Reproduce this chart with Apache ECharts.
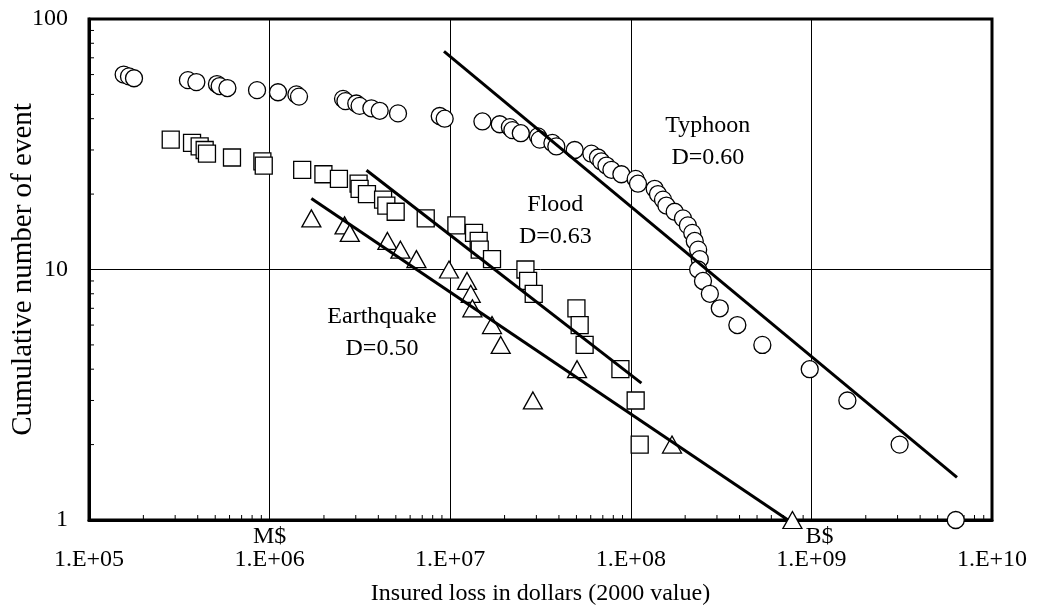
<!DOCTYPE html>
<html>
<head>
<meta charset="utf-8">
<script src="https://cdn.jsdelivr.net/npm/echarts@6/dist/echarts.min.js"></script>
<style>html,body{margin:0;padding:0;background:#fff}#c{width:1039px;height:614px}</style>
</head>
<body>
<div id="c"></div>
<script>
// ---- data ----
var typhoonX = [1.556e5,1.665e5,1.775e5,3.53e5,3.93e5,5.11e5,5.29e5,5.84e5,8.52e5,1.113e6,1.407e6,1.455e6,2.55e6,2.63e6,3.02e6,3.15e6,3.66e6,4.07e6,5.14e6,8.75e6,9.32e6,1.508e7,1.88e7,2.14e7,2.21e7,2.46e7,3.06e7,3.13e7,3.68e7,3.87e7,4.89e7,6.05e7,6.58e7,6.87e7,7.33e7,7.81e7,8.87e7,1.064e8,1.096e8,1.356e8,1.414e8,1.508e8,1.574e8,1.75e8,1.945e8,2.07e8,2.19e8,2.26e8,2.36e8,2.41e8,2.36e8,2.51e8,2.74e8,3.11e8,3.89e8,5.35e8,9.79e8,1.582e9,3.08e9,6.3e9];
var typhoonY = [60,59,58,57,56,55,54,53,52,51,50,49,48,47,46,45,44,43,42,41,40,39,38,37,36,35,34,33,32,31,30,29,28,27,26,25,24,23,22,21,20,19,18,17,16,15,14,13,12,11,10,9,8,7,6,5,4,3,2,1];
var floodX = [2.835e5,3.72e5,4.10e5,4.37e5,4.50e5,6.19e5,9.12e5,9.28e5,1.515e6,1.986e6,2.42e6,3.11e6,3.15e6,3.46e6,4.25e6,4.43e6,4.99e6,7.32e6,1.082e7,1.355e7,1.438e7,1.457e7,1.704e7,2.61e7,2.70e7,2.90e7,5.0e7,5.21e7,5.55e7,8.76e7,1.064e8,1.12e8];
var floodY = [33,32,31,30,29,28,27,26,25,24,23,22,21,20,19,18,17,16,15,14,13,12,11,10,9,8,7,6,5,4,3,2];
var quakeX = [1.703e6,2.60e6,2.78e6,4.49e6,5.30e6,6.50e6,9.85e6,1.239e7,1.299e7,1.327e7,1.704e7,1.904e7,5.04e7,2.87e7,1.691e8,7.85e8];
var quakeY = [16,15,14,13,12,11,10,9,8,7,6,5,4,3,2,1];
// fitted power-law lines (end points)
var typhoonFitX = [9.24e6, 6.4e9];
var typhoonFitY = [74.2, 1.48];
var floodFitX = [3.44e6, 1.145e8];
var floodFitY = [24.9, 3.52];
var quakeFitX = [1.703e6, 7.42e8];
var quakeFitY = [19.2, 1.0];
// annotations
var noteText = ['Typhoon\nD=0.60', 'Flood\nD=0.63', 'Earthquake\nD=0.50'];
var noteX = [2.67e8, 3.82e7, 4.19e6];
var noteY = [32.4, 15.7, 5.61];
// axis ticks
var xUnitLabels = {6:'M$', 9:'B$'};
var minorMult = [2,3,4,5,6,7,8,9];

function zip(a,b){return a.map(function(v,i){return [v,b[i]];});}
var minorX = [], minorY = [];
for (var e=5;e<10;e++) minorMult.forEach(function(m){minorX.push([m*Math.pow(10,e),1]);});
for (var f=0;f<2;f++) minorMult.forEach(function(m){minorY.push([1e5,m*Math.pow(10,f)]);});

var FONT = "'Liberation Serif','Times New Roman',serif";
var markerStyle = {color:'#fff', borderColor:'#000', borderWidth:1.3, opacity:1};

var chart = echarts.init(document.getElementById('c'), null, {renderer:'canvas'});
chart.setOption({
  animation:false,
  backgroundColor:'#fff',
  grid:{left:89, right:47, top:19, bottom:94, containLabel:false, outerBoundsMode:'none',
        show:true, borderColor:'#000', borderWidth:3, backgroundColor:'transparent'},
  xAxis:{
    type:'log', logBase:10, min:1e5, max:1e10,
    name:'Insured loss in dollars (2000 value)', nameLocation:'middle', nameGap:62,
    nameTextStyle:{fontFamily:FONT, fontSize:24, color:'#000'},
    axisLine:{show:true, lineStyle:{color:'#000', width:3}},
    axisTick:{show:false},
    splitLine:{show:true, lineStyle:{color:'#000', width:1}},
    axisLabel:{
      margin:5, fontFamily:FONT, fontSize:24, color:'#000',
      formatter:function(v){
        var e = Math.round(Math.log10(v));
        var s = '1.E+' + (e<10?'0':'') + e;
        var u = xUnitLabels[e];
        var top = u ? (e===9 ? '{b|'+u+'}' : '{u|'+u+'}') : '{u|\u00a0}';
        return top + '\n{a|' + s + '}';
      },
      rich:{
        u:{fontFamily:FONT, fontSize:24, lineHeight:23, color:'#000'},
        b:{fontFamily:FONT, fontSize:24, lineHeight:23, color:'#000', padding:[0,0,0,16]},
        a:{fontFamily:FONT, fontSize:24, lineHeight:24, color:'#000'}
      }
    }
  },
  yAxis:{
    type:'log', logBase:10, min:1, max:100,
    name:'Cumulative number of event', nameLocation:'middle', nameGap:51, nameMoveOverlap:false,
    nameTextStyle:{fontFamily:FONT, fontSize:29, color:'#000'},
    axisLine:{show:true, lineStyle:{color:'#000', width:3}},
    axisTick:{show:false},
    splitLine:{show:true, lineStyle:{color:'#000', width:1}},
    axisLabel:{margin:21, fontFamily:FONT, fontSize:24, color:'#000'}
  },
  series:[
    {type:'custom', silent:true, z:1, data:minorX,
     renderItem:function(params, api){
       var p = api.coord([api.value(0), api.value(1)]);
       return {type:'line', shape:{x1:p[0], y1:p[1], x2:p[0], y2:p[1]-5}, style:{stroke:'#000', lineWidth:1}};
     }},
    {type:'custom', silent:true, z:1, data:minorY,
     renderItem:function(params, api){
       var p = api.coord([api.value(0), api.value(1)]);
       return {type:'line', shape:{x1:p[0], y1:p[1], x2:p[0]+5, y2:p[1]}, style:{stroke:'#000', lineWidth:1}};
     }},
    {name:'Typhoon', type:'scatter', z:3, symbol:'circle', symbolSize:17, itemStyle:markerStyle, data:zip(typhoonX, typhoonY)},
    {name:'Flood', type:'scatter', z:3, symbol:'rect', symbolSize:17, itemStyle:markerStyle, data:zip(floodX, floodY)},
    {name:'Earthquake', type:'scatter', z:3, symbol:'triangle', symbolSize:[19,17], itemStyle:markerStyle, data:zip(quakeX, quakeY)},
    {type:'line', z:4, symbol:'none', lineStyle:{color:'#000', width:3, opacity:1}, data:zip(typhoonFitX, typhoonFitY)},
    {type:'line', z:4, symbol:'none', lineStyle:{color:'#000', width:3, opacity:1}, data:zip(floodFitX, floodFitY)},
    {type:'line', z:4, symbol:'none', lineStyle:{color:'#000', width:3, opacity:1}, data:zip(quakeFitX, quakeFitY)},
    {type:'scatter', z:5, symbolSize:0, silent:true, itemStyle:{color:'transparent', opacity:1},
     label:{show:true, position:'inside', fontFamily:FONT, fontSize:24, lineHeight:32, color:'#000', opacity:1,
            textBorderWidth:0, textBorderColor:'transparent', textShadowBlur:0,
            align:'center', verticalAlign:'middle',
            formatter:function(p){return p.data.name;}},
     data:noteText.map(function(t,i){return {name:t, value:[noteX[i], noteY[i]]};})}
  ]
});
</script>
</body>
</html>
